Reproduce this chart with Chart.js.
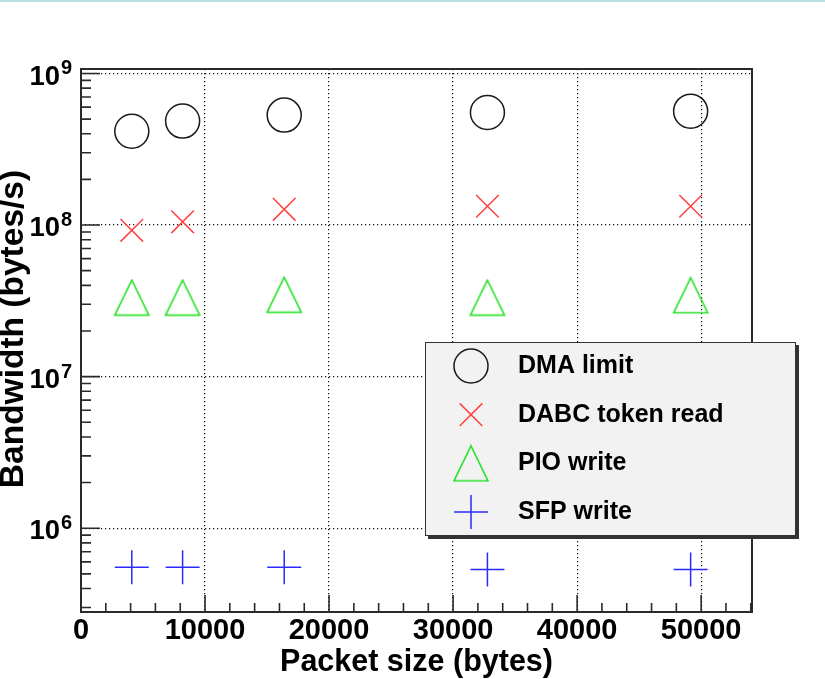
<!DOCTYPE html>
<html>
<head>
<meta charset="utf-8">
<title>Bandwidth vs packet size</title>
<script src="https://cdn.jsdelivr.net/npm/chart.js@4.4.1/dist/chart.umd.min.js"></script>
<style>
  html, body { margin:0; padding:0; background:#fff; }
  #wrap { position:relative; width:825px; height:679px; }
  #topline { position:absolute; left:0; top:0; width:825px; height:2px; background:#b9dfe2; }
  canvas { display:block; }
</style>
</head>
<body>
<div id="wrap">
  <canvas id="chart" width="825" height="679"></canvas>
  <div id="topline"></div>
</div>
<script>
/* data */
const packetSizes   = [4096, 8192, 16384, 32768, 49152];
const dmaLimit      = [4.16e8, 4.85e8, 5.31e8, 5.53e8, 5.64e8];
const dabcTokenRead = [9.23e7, 1.05e8, 1.27e8, 1.33e8, 1.33e8];
const pioWrite      = [3.32e7, 3.32e7, 3.47e7, 3.32e7, 3.44e7];
const sfpWrite      = [5.53e5, 5.53e5, 5.53e5, 5.35e5, 5.35e5];
const seriesLabels  = ["DMA limit", "DABC token read", "PIO write", "SFP write"];
const xTicks = [0, 10000, 20000, 30000, 40000, 50000];
const yTicks = [1e6, 1e7, 1e8, 1e9];
const xTitle = "Packet size (bytes)";
const yTitle = "Bandwidth (bytes/s)";

const FONT = '"Liberation Sans", Arial, Helvetica, sans-serif';

function points(ys){
  return packetSizes.map((x, i) => ({ x, y: ys[i] }));
}

// ROOT style open triangle (as wide as it is tall)
function triangleMarker(color){
  const c = document.createElement("canvas");
  c.width = 38; c.height = 38;
  const g = c.getContext("2d");
  g.strokeStyle = color;
  g.lineWidth = 1.6;
  g.beginPath();
  g.moveTo(19, 1.5);
  g.lineTo(36, 36.5);
  g.lineTo(2, 36.5);
  g.closePath();
  g.stroke();
  return c;
}

const markers = [
  { style: "circle",   color: "#1a1a1a", radius: 17 },
  { style: "crossRot", color: "#ff4040", radius: 16 },
  { style: triangleMarker("#22e022"), color: "#22e022", radius: 17 },
  { style: "cross",    color: "#2b2bff", radius: 17 }
];

/********************
 * frame, inward ticks, y labels, y title
 ********************/
const rootFrame = {
  id: "rootFrame",
  afterDatasetsDraw(chart){
    const { ctx, chartArea: a, scales: { x, y } } = chart;
    ctx.save();
    ctx.strokeStyle = "#2a2a2a";
    ctx.lineWidth = 1.6;
    ctx.beginPath();
    for(let v = 0; v <= x.max; v += 2000){
      const px = x.getPixelForValue(v);
      const len = v % 10000 === 0 ? 17 : 9;
      ctx.moveTo(px, a.bottom);
      ctx.lineTo(px, a.bottom - len);
    }
    const e0 = Math.floor(Math.log10(y.min));
    const e1 = Math.ceil(Math.log10(y.max));
    for(let e = e0; e <= e1; e++){
      for(let m = 1; m < 10; m++){
        const v = m * Math.pow(10, e);
        if(v < y.min || v > y.max) continue;
        const py = y.getPixelForValue(v);
        ctx.moveTo(a.left, py);
        ctx.lineTo(a.left + (m === 1 ? 19 : 10), py);
      }
    }
    ctx.stroke();

    ctx.lineWidth = 2;
    ctx.strokeRect(a.left, a.top, a.right - a.left, a.bottom - a.top);

    // y tick labels 10^n
    ctx.fillStyle = "#000";
    ctx.textBaseline = "middle";
    yTicks.forEach(v => {
      const py = y.getPixelForValue(v);
      ctx.font = "bold 27.5px " + FONT;
      ctx.textAlign = "right";
      ctx.fillText("10", a.left - 21, py + 3.5);
      ctx.font = "bold 20px " + FONT;
      ctx.textAlign = "left";
      ctx.fillText(String(Math.round(Math.log10(v))), a.left - 20, py - 4.5);
    });

    // y title
    ctx.save();
    ctx.translate(14, 329);
    ctx.rotate(-Math.PI / 2);
    ctx.font = "bold 33.5px " + FONT;
    ctx.textAlign = "center";
    ctx.fillText(yTitle, 0, 0);
    ctx.restore();

    ctx.restore();
  }
};

/********************
 * legend box
 ********************/
const rootLegend = {
  id: "rootLegend",
  afterDraw(chart){
    const ctx = chart.ctx;
    const bx = 425, by = 342, bw = 371, bh = 194;
    ctx.save();
    ctx.fillStyle = "#333";
    ctx.fillRect(bx + 3, by + 3, bw, bh);
    ctx.fillStyle = "#f2f2f2";
    ctx.fillRect(bx, by, bw, bh);
    ctx.strokeStyle = "#333";
    ctx.lineWidth = 1;
    ctx.strokeRect(bx + 0.5, by + 0.5, bw - 1, bh - 1);

    chart.data.datasets.forEach((ds, i) => {
      const cy = by + 24 + i * 48.7;
      const mk = markers[i];
      ctx.strokeStyle = mk.color;
      ctx.fillStyle = "rgba(0,0,0,0)";
      ctx.lineWidth = 1.5;
      Chart.helpers.drawPoint(ctx, { pointStyle: mk.style, radius: mk.radius, rotation: 0, borderWidth: 1.5 }, bx + 46, cy);
      ctx.fillStyle = "#000";
      ctx.font = "bold 25px " + FONT;
      ctx.textAlign = "left";
      ctx.textBaseline = "middle";
      ctx.fillText(ds.label, bx + 93, cy);
    });
    ctx.restore();
  }
};

const datasets = [dmaLimit, dabcTokenRead, pioWrite, sfpWrite].map((ys, i) => ({
  label: seriesLabels[i],
  data: points(ys),
  pointStyle: markers[i].style,
  pointRadius: markers[i].radius,
  pointBorderColor: markers[i].color,
  pointBackgroundColor: "rgba(0,0,0,0)",
  pointBorderWidth: 1.5,
  showLine: false
}));

new Chart(document.getElementById("chart"), {
  type: "scatter",
  data: { datasets },
  options: {
    responsive: false,
    animation: false,
    events: [],
    devicePixelRatio: 1,
    layout: { padding: { top: 69, right: 73, left: 0, bottom: 0 } },
    plugins: { legend: { display: false }, tooltip: { enabled: false } },
    scales: {
      x: {
        type: "linear",
        min: 0,
        max: 54100,
        afterBuildTicks: s => { s.ticks = xTicks.map(v => ({ value: v })); },
        afterFit: s => { s.height = 67; },
        ticks: {
          color: "#000",
          padding: 1.5,
          font: { family: FONT, size: 29, weight: "bold" },
          callback: v => String(v)
        },
        grid: { color: "#111", lineWidth: 1.2, drawTicks: false },
        border: { display: false, dash: [1.2, 2.8] }
      ,
        title: {
          display: true,
          text: xTitle,
          color: "#000",
          font: { family: FONT, size: 30.5, weight: "bold", lineHeight: 1 },
          padding: { top: 0, bottom: 1.5 }
        }
      },
      y: {
        type: "logarithmic",
        min: 2.8e5,
        max: 1.07e9,
        afterBuildTicks: s => { s.ticks = yTicks.map(v => ({ value: v })); },
        afterFit: s => { s.width = 81; },
        ticks: { display: false },
        grid: { color: "#111", lineWidth: 1.2, drawTicks: false },
        border: { display: false, dash: [1.2, 2.8] }
      }
    }
  },
  plugins: [rootFrame, rootLegend]
});
</script>
</body>
</html>
